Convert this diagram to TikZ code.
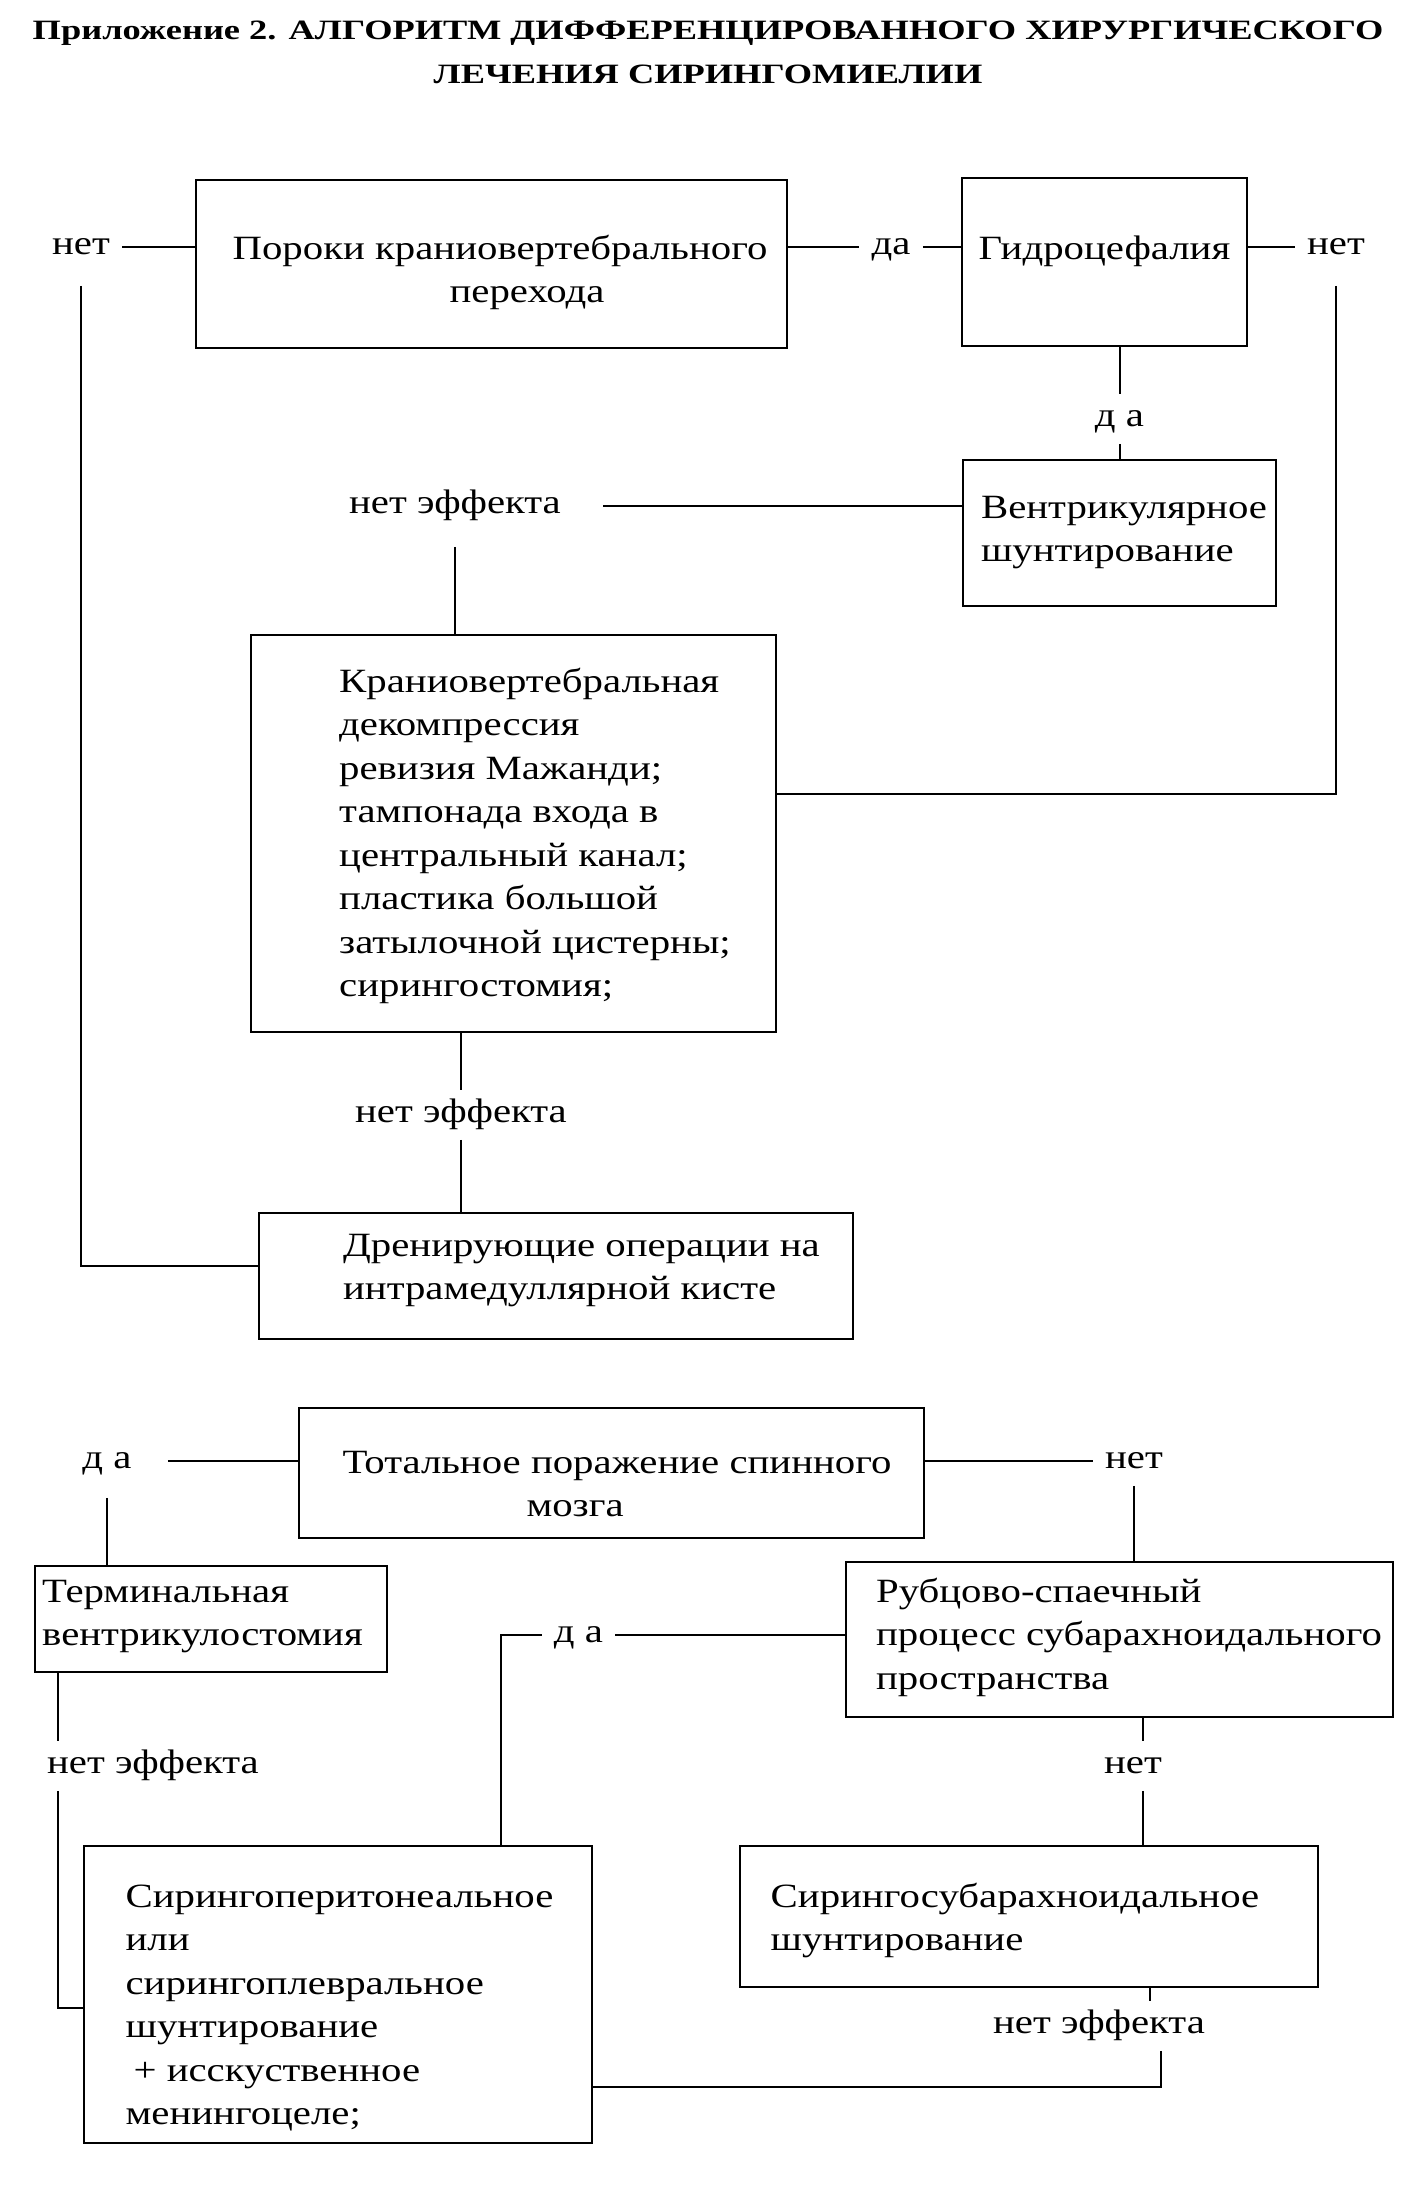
\documentclass[tikz,border=0pt]{standalone}
\usepackage{fontspec}
\setmainfont{Liberation Serif}[FakeStretch=1.2]
\newfontfamily\titlefont{Liberation Serif}[FakeStretch=1.3]
% #1 horizontal offset (twice the shift), #2 first baseline above box centre, #3 lines
\newcommand\boxtext[3]{\hspace*{#1}\raisebox{#2}[0pt][0pt]{\begin{tabular}[t]{@{}l@{}}#3\end{tabular}}}
\begin{document}
\begin{tikzpicture}[x=0.5pt,y=-0.5pt,
  font=\fontsize{17pt}{21.75pt}\selectfont,
  blk/.style={draw, line width=1.4pt, inner sep=0pt},
  lbl/.style={inner xsep=6pt, inner ysep=5pt, text height=11pt, text depth=3.5pt},
  con/.style={line width=1pt}]
\fill[white] (0,0) rectangle (1415,2200);
\useasboundingbox (0,0) rectangle (1415,2200);

\node[font=\titlefont\bfseries\fontsize{14pt}{22pt}\selectfont, align=center] (title) at (708,52)
  {Приложение 2. АЛГОРИТМ ДИФФЕРЕНЦИРОВАННОГО ХИРУРГИЧЕСКОГО\\ЛЕЧЕНИЯ СИРИНГОМИЕЛИИ};

% top part
\node[blk, minimum width=295.5pt, minimum height=84pt] (A) at (491.5,264)
  {\boxtext{8.5pt}{2.5pt}{Пороки краниовертебрального\\\hspace*{108.5pt}перехода}};
\node[blk, minimum width=142.5pt, minimum height=84pt] (B) at (1104.5,262)
  {\boxtext{0pt}{1.5pt}{Гидроцефалия}};
\node[blk, minimum width=156.5pt, minimum height=73pt] (D) at (1119.5,533)
  {\boxtext{4.5pt}{7.5pt}{Вентрикулярное\\шунтирование}};
\node[blk, minimum width=262.5pt, minimum height=198.5pt] (C) at (513.5,833.5)
  {\boxtext{21.5pt}{70.75pt}{Краниовертебральная\\декомпрессия\\ревизия Мажанди;\\тампонада входа в\\центральный канал;\\пластика большой\\затылочной цистерны;\\сирингостомия;}};
\node[blk, minimum width=297pt, minimum height=63pt] (E) at (556,1276)
  {\boxtext{25.5pt}{10pt}{Дренирующие операции на\\интрамедуллярной кисте}};

\node[lbl] (netL) at (81,247) {нет};
\node[lbl] (da1) at (891,247) {да};
\node[lbl] (netR) at (1336,247) {нет};
\node[lbl] (da2) at (1119.5,419) {д а};
\node[lbl] (ne1) at (455,506) {нет эффекта};
\node[lbl] (ne2) at (461,1115) {нет эффекта};

\draw[con] (netL) -- (netL -| A.west);
\draw[con] (da1 -| A.east) -- (da1);
\draw[con] (da1) -- (da1 -| B.west);
\draw[con] (netR -| B.east) -- (netR);
\draw[con, shorten <=7pt] (netR) |- ([yshift=19.75pt]C.east);
\draw[con, shorten <=7pt] (netL) |- ([yshift=5pt]E.west);
\draw[con] (da2 |- B.south) -- (da2);
\draw[con] (da2) -- (D);
\draw[con, shorten <=15pt] (ne1) -- (ne1 -| D.west);
\draw[con, shorten <=8pt] (ne1) -- (ne1 |- C.north);
\draw[con] (ne2 |- C.south) -- (ne2);
\draw[con] (ne2) -- (ne2 |- E.north);

% bottom part
\node[blk, minimum width=312.5pt, minimum height=65pt] (F) at (611.5,1473)
  {\boxtext{5.5pt}{0pt}{Тотальное поражение спинного\\\hspace*{92pt}мозга}};
\node[blk, minimum width=176pt, minimum height=53pt] (G) at (211,1619)
  {\boxtext{-8.5pt}{8.5pt}{Терминальная\\вентрикулостомия}};
\node[blk, minimum width=273.5pt, minimum height=77.5pt] (H) at (1119.5,1639.5)
  {\boxtext{9.5pt}{18.75pt}{Рубцово-спаечный\\процесс субарахноидального\\пространства}};
\node[blk, minimum width=254pt, minimum height=148.5pt] (I) at (338,1994.5)
  {\boxtext{1.5pt}{43.75pt}{Сирингоперитонеальное\\или\\сирингоплевральное\\шунтирование\\\hspace*{4pt}+ исскуственное\\менингоцеле;}};
\node[blk, minimum width=289pt, minimum height=70.5pt] (J) at (1029,1916.5)
  {\boxtext{-14pt}{4.75pt}{Сирингосубарахноидальное\\шунтирование}};

\node[lbl] (daL) at (107,1461) {д а};
\node[lbl] (netF) at (1134,1461) {нет};
\node[lbl] (daM) at (578.5,1635) {д а};
\node[lbl] (ne3) at (153,1766) {нет эффекта};
\node[lbl] (netH) at (1133,1766) {нет};
\node[lbl] (ne4) at (1099,2026) {нет эффекта};

\draw[con, shorten <=12pt] (daL) -- (daL -| F.west);
\draw[con, shorten <=6pt] (daL) -- (daL |- G.north);
\draw[con] (netF -| F.east) -- (netF);
\draw[con] (netF) -- (netF |- H.north);
\draw[con] (daM) -- (daM -| H.west);
\draw[con] (daM) -| ([xshift=81.5pt]I.north);
\coordinate (g1) at ([xshift=12pt]G.south west);
\draw[con] (g1) -- (g1 |- ne3.north);
\draw[con] (g1 |- ne3.south) |- ([yshift=-6.75pt]I.west);
\coordinate (h1) at ([xshift=11.5pt]H.south);
\draw[con] (h1) -- (h1 |- netH.north);
\draw[con] (h1 |- netH.south) -- (h1 |- J.north);
\coordinate (j1) at ([xshift=60.5pt]J.south);
\coordinate (j2) at ([xshift=66pt]J.south);
\draw[con] (j1) -- (j1 |- ne4.north);
\draw[con] (j2 |- ne4.south) |- ([yshift=-46.25pt]I.east);
\end{tikzpicture}
\end{document}
